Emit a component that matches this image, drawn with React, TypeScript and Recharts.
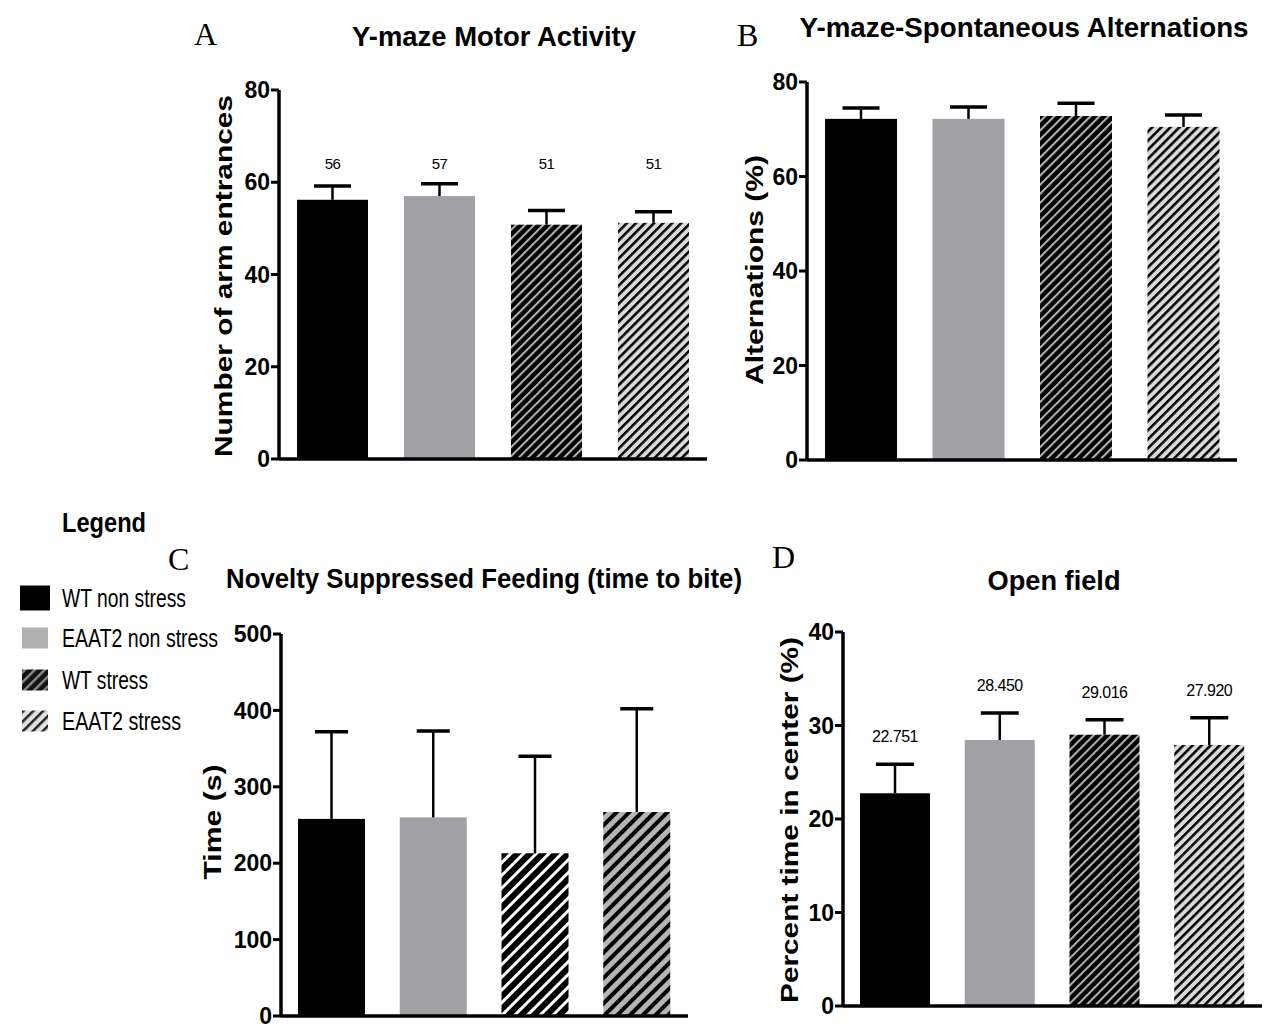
import React from 'react';
import { BarChart, Bar, XAxis, YAxis, Cell } from 'recharts';

const groups = ['WT non stress', 'EAAT2 non stress', 'WT stress', 'EAAT2 stress'];

const motorMean = [56.2, 57.0, 50.8, 51.2];
const motorSem = [3.0, 2.7, 3.1, 2.4];
const motorLabels = ['56', '57', '51', '51'];
const motorTicks = [0, 20, 40, 60, 80];

const altMean = [72.2, 72.2, 72.8, 70.5];
const altSem = [2.3, 2.5, 2.7, 2.5];
const altTicks = [0, 20, 40, 60, 80];

const nsfMean = [258, 260, 213, 267];
const nsfSem = [114, 113, 127, 135];
const nsfTicks = [0, 100, 200, 300, 400, 500];

const openMean = [22.751, 28.45, 29.016, 27.92];
const openSem = [3.1, 2.9, 1.6, 2.9];
const openLabels = ['22.751', '28.450', '29.016', '27.920'];
const openTicks = [0, 10, 20, 30, 40];

const NARROW = '"Liberation Sans Narrow", "Arial Narrow", "Liberation Sans", sans-serif';
const SANS = '"Liberation Sans", Arial, sans-serif';

const fineFills = ['#000000', '#a1a1a5', 'url(#darkFine)', 'url(#lightFine)'];
const coarseFills = ['#000000', '#a1a1a5', 'url(#darkCoarse)', 'url(#lightCoarse)'];

type Box = { left: number; top: number; right: number; bottom: number };

interface PanelProps {
  box: Box;
  mean: number[];
  sem: number[];
  ticks: number[];
  barSize: number;
  capWidth: number;
  fills: string[];
  labels?: string[];
  labelLevel?: number; // fixed value level for labels
  labelFont?: number;
}

const Panel = ({ box, mean, sem, ticks, barSize, capWidth, fills, labels, labelLevel, labelFont = 15 }: PanelProps) => {
  const data = groups.map((g, i) => ({ name: g, mean: mean[i], sem: sem[i], label: labels ? labels[i] : '' }));
  const w = box.right - box.left + 100;
  const h = box.bottom - box.top + 40;

  const shape = (props: any) => {
    const { x, y, width, height, fill, payload } = props;
    const perUnit = height / payload.mean;
    const errY = y - payload.sem * perUnit;
    const cx = x + width / 2;
    let labelY = errY - 27;
    if (labelLevel !== undefined) labelY = y + height - labelLevel * perUnit;
    return (
      <g>
        <rect x={x} y={y} width={width} height={height} fill={fill} />
        <line x1={cx} x2={cx} y1={y} y2={errY} stroke="#000" strokeWidth={2.5} />
        <line x1={cx - capWidth / 2} x2={cx + capWidth / 2} y1={errY} y2={errY} stroke="#000" strokeWidth={3.5} />
        {payload.label && (
          <text x={cx} y={labelY + 5} textAnchor="middle" fontFamily={NARROW} fontSize={labelFont} letterSpacing={-0.5} fill="#000">
            {payload.label}
          </text>
        )}
      </g>
    );
  };

  return (
    <div style={{ position: 'absolute', left: box.left - 80, top: box.top - 20 }}>
      <BarChart width={w} height={h} data={data} margin={{ top: 20, right: 20, left: 20, bottom: 10 }}>
        <XAxis dataKey="name" tick={false} tickLine={false} height={10} axisLine={{ stroke: '#000', strokeWidth: 3.5 }} />
        <YAxis
          width={60}
          domain={[ticks[0], ticks[ticks.length - 1]]}
          ticks={ticks}
          interval={0}
          tickSize={8}
          tickMargin={1}
          axisLine={{ stroke: '#000', strokeWidth: 3.5 }}
          tickLine={{ stroke: '#000', strokeWidth: 3 }}
          tick={{ fill: '#000', fontSize: 23, fontWeight: 'bold', fontFamily: NARROW }}
        />
        <Bar dataKey="mean" barSize={barSize} isAnimationActive={false} shape={shape}>
          {data.map((d, i) => (
            <Cell key={d.name} fill={fills[i]} />
          ))}
        </Bar>
      </BarChart>
    </div>
  );
};

const Hatch = ({ id, bg, stripe, size, stroke }: { id: string; bg: string; stripe: string; size: number; stroke: number }) => (
  <pattern id={id} patternUnits="userSpaceOnUse" width={size} height={size} patternTransform="rotate(45)">
    <rect width={size} height={size} fill={bg} />
    <rect x={0} y={0} width={stroke} height={size} fill={stripe} />
  </pattern>
);

const legendRows = [
  { y: 598, h: 25 },
  { y: 638, h: 21 },
  { y: 680, h: 21 },
  { y: 721, h: 21 },
];
const legendWidths = [124, 156, 86, 119];

export default function App() {
  return (
    <div style={{ position: 'absolute', left: 0, top: 0, width: 1266, height: 1026, background: '#fff' }}>
      <Panel box={{ left: 279, top: 90, right: 707, bottom: 459 }} mean={motorMean} sem={motorSem} ticks={motorTicks}
        barSize={71} capWidth={37} fills={fineFills} labels={motorLabels} labelLevel={64} />
      <Panel box={{ left: 807, top: 82, right: 1237, bottom: 460 }} mean={altMean} sem={altSem} ticks={altTicks}
        barSize={72} capWidth={37} fills={fineFills} />
      <Panel box={{ left: 281, top: 634, right: 688, bottom: 1016 }} mean={nsfMean} sem={nsfSem} ticks={nsfTicks}
        barSize={67} capWidth={33} fills={coarseFills} />
      <Panel box={{ left: 843, top: 632, right: 1262, bottom: 1006 }} mean={openMean} sem={openSem} ticks={openTicks}
        barSize={70} capWidth={38} fills={fineFills} labels={openLabels} labelFont={16} />

      <svg width={1266} height={1026} style={{ position: 'absolute', left: 0, top: 0, pointerEvents: 'none' }}>
        <defs>
          <Hatch id="darkFine" bg="#000" stripe="#b4b4b4" size={6.4} stroke={2} />
          <Hatch id="lightFine" bg="#d9d9d9" stripe="#000" size={6.4} stroke={2.5} />
          <Hatch id="darkCoarse" bg="#000" stripe="#ffffff" size={9} stroke={3} />
          <Hatch id="lightCoarse" bg="#b5b5b5" stripe="#000" size={9} stroke={4} />
          <Hatch id="darkLegend" bg="#111" stripe="#8a8a8a" size={7} stroke={2.5} />
          <Hatch id="lightLegend" bg="#e2e2e2" stripe="#222" size={7} stroke={2.5} />
        </defs>

        {/* panel letters */}
        <g fontFamily='"Liberation Serif", "Times New Roman", serif' fontSize={32} fill="#000">
          <text x={194} y={45}>A</text>
          <text x={737} y={46}>B</text>
          <text x={168} y={570}>C</text>
          <text x={772} y={568}>D</text>
        </g>

        {/* titles */}
        <g fontFamily={NARROW} fontWeight="bold" fontSize={28} fill="#000" textAnchor="middle">
          <text x={494} y={46} textLength={284} lengthAdjust="spacingAndGlyphs">Y-maze Motor Activity</text>
          <text x={1024} y={37} textLength={449} lengthAdjust="spacingAndGlyphs">Y-maze-Spontaneous Alternations</text>
          <text x={484} y={588} textLength={516} lengthAdjust="spacingAndGlyphs">Novelty Suppressed Feeding (time to bite)</text>
          <text x={1054} y={590} textLength={133} lengthAdjust="spacingAndGlyphs">Open field</text>
        </g>

        {/* y-axis labels */}
        <g fontFamily={SANS} fontWeight="bold" fontSize={24} fill="#000" textAnchor="middle">
          <text transform="translate(232,276) rotate(-90)" textLength={362} lengthAdjust="spacingAndGlyphs">Number of arm entrances</text>
          <text transform="translate(763,270) rotate(-90)" textLength={230} lengthAdjust="spacingAndGlyphs">Alternations (%)</text>
          <text transform="translate(221,822) rotate(-90)" textLength={115} lengthAdjust="spacingAndGlyphs">Time (s)</text>
          <text transform="translate(798,820) rotate(-90)" textLength={366} lengthAdjust="spacingAndGlyphs">Percent time in center (%)</text>
        </g>

        {/* legend */}
        <text x={62} y={532} fontFamily={NARROW} fontWeight="bold" fontSize={28} fill="#000" textLength={84} lengthAdjust="spacingAndGlyphs">Legend</text>
        {groups.map((g, i) => {
          const fills = ['#000', '#b0b0b0', 'url(#darkLegend)', 'url(#lightLegend)'];
          const r = legendRows[i];
          return (
            <g key={g}>
              <rect x={i === 0 ? 20 : 22} y={r.y - r.h / 2} width={i === 0 ? 30 : 26} height={r.h} fill={fills[i]} />
              <text x={62} y={r.y + 9} fontFamily={NARROW} fontSize={25} fill="#000" textLength={legendWidths[i]} lengthAdjust="spacingAndGlyphs">{g}</text>
            </g>
          );
        })}
      </svg>
    </div>
  );
}
